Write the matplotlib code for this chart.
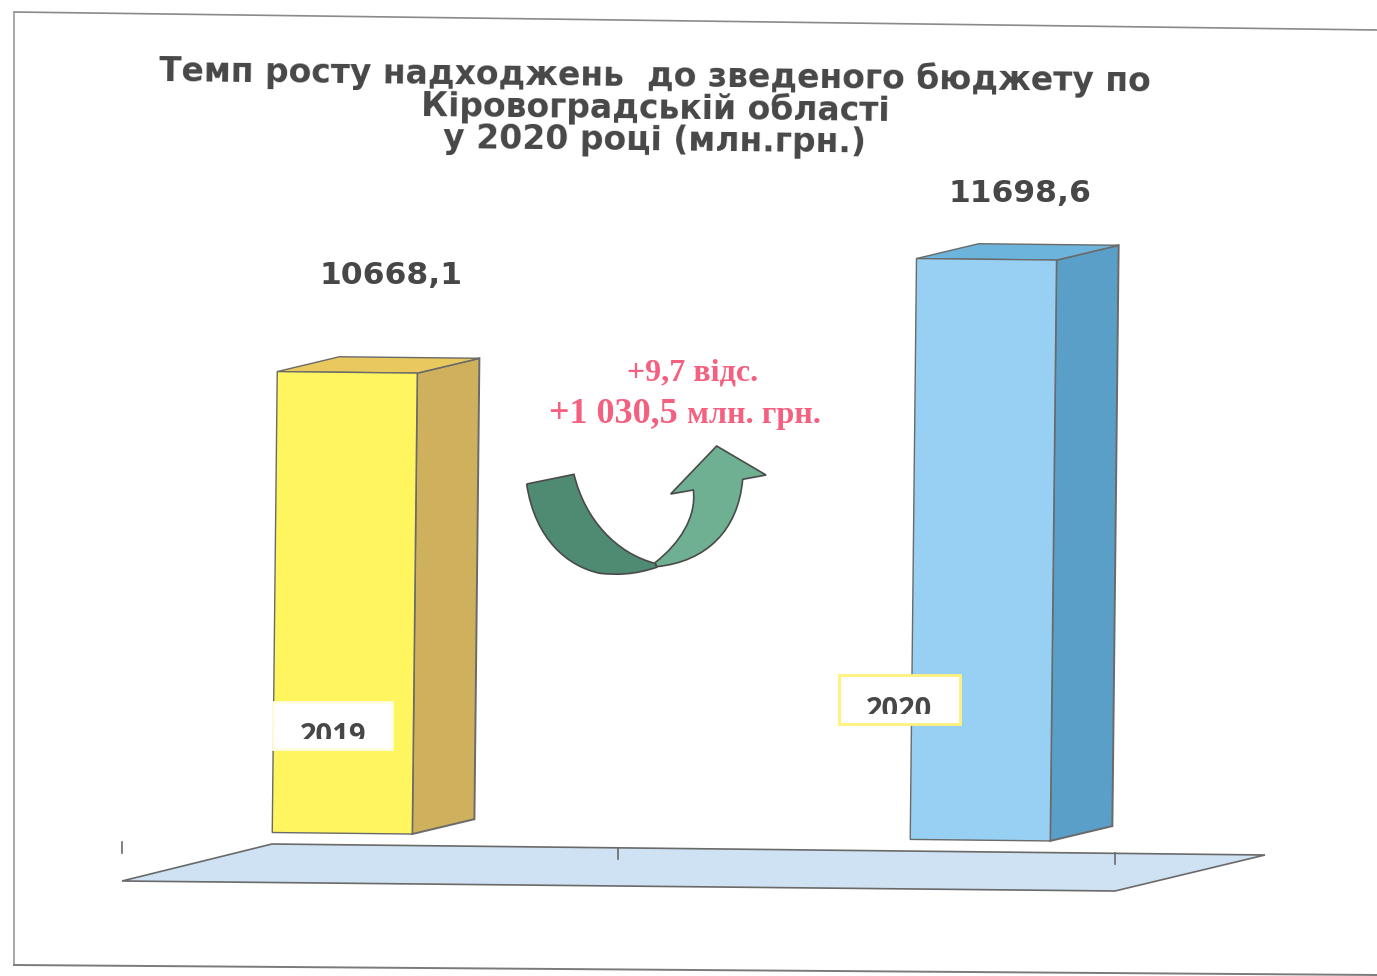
import numpy as np
import matplotlib
matplotlib.use("Agg")
import matplotlib.pyplot as plt
from matplotlib.patches import Polygon, PathPatch, Rectangle
from matplotlib.path import Path
from matplotlib.transforms import Affine2D, Bbox

W, H = 1377, 976

categories = ["2019", "2020"]
values = [10668.1, 11698.6]
value_labels = ["10668,1", "11698,6"]
title_lines = ["Темп росту надходжень  до зведеного бюджету по",
               "Кіровоградській області",
               "у 2020 році (млн.грн.)"]

front_cols = ["#fff55f", "#97d0f2"]
side_cols = ["#cfb05c", "#5a9fc8"]
top_cols = ["#e9c95e", "#6cb4dc"]
GREY = "#6a6a6a"
TXT = "#474747"
RED = "#f4607f"

# scale of the value axis, bars start far above zero in the original
base = 6708
px_per_val = 0.1164
base_px = 837
x0_px, step_px = 346, 638
bar_w = 140 / step_px
depth_x = 62 / step_px
depth_y = 15.5 / px_per_val
tilt_deg = -0.62

fig = plt.figure(figsize=(W / 100, H / 100), dpi=100)
ax = fig.add_axes([0, 0, 1, 1])
ax.set_xlim(-x0_px / step_px, (W - x0_px) / step_px)
ax.set_ylim(base - (H - base_px) / px_per_val, base + base_px / px_per_val)
ax.axis("off")

# the page was scanned slightly crooked
tilt = Affine2D().rotate_deg_around(W / 2, H / 2, tilt_deg)
tr = ax.transData + tilt

for i, v in enumerate(values):
    l, r = i - bar_w / 2, i + bar_w / 2
    bars = ax.bar(i, v - base, bar_w, bottom=base, color=front_cols[i],
                  edgecolor=GREY, linewidth=1.0, zorder=3)
    bars[0].set_transform(tr)
    side = Polygon([(r, base), (r + depth_x, base + depth_y), (r + depth_x, v + depth_y), (r, v)],
                   facecolor=side_cols[i], edgecolor=GREY, linewidth=1.4, transform=tr, zorder=2)
    top = Polygon([(l, v), (r, v), (r + depth_x, v + depth_y), (l + depth_x, v + depth_y)],
                  facecolor=top_cols[i], edgecolor=GREY, linewidth=1.0, transform=tr, zorder=2)
    ax.add_patch(side)
    ax.add_patch(top)

# overlay in picture pixels for floor, frame, arrow and text
deco = fig.add_axes([0, 0, 1, 1])
deco.set_xlim(0, W)
deco.set_ylim(H, 0)
deco.axis("off")
deco.patch.set_alpha(0)

# scan frame
deco.plot([14, 1377], [12, 30], color="#8a8a8a", lw=1.2)
deco.plot([14, 14], [12, 965], color="#9a9a9a", lw=1.2)
deco.plot([14, 1377], [965, 975], color="#7a7a7a", lw=1.4)

# floor
floor = Polygon([(122, 881), (272, 844), (1265, 855), (1115, 891)],
                facecolor="#cfe2f3", edgecolor=GREY, linewidth=1.2)
deco.add_patch(floor)
for x, y in [(122, 842), (618, 848), (1115, 853)]:
    deco.plot([x, x], [y, y + 11], color=GREY, lw=1.2)


def z(px, py):
    return (px / 3 + 500, py / 3 + 340)


# arrow, dark part then light part
dark_v = [z(80, 432), z(222, 403), z(255, 540), z(350, 640), z(465, 670), z(470, 682),
          z(400, 705), z(350, 705), z(300, 700), z(205, 680), z(105, 600), z(80, 432)]
dark_c = [Path.MOVETO, Path.LINETO, Path.CURVE4, Path.CURVE4, Path.CURVE4, Path.LINETO,
          Path.CURVE4, Path.CURVE4, Path.CURVE4, Path.CURVE4, Path.CURVE4, Path.CURVE4]
light_v = [z(465, 668), z(540, 610), z(590, 530), z(580, 450), z(512, 462), z(650, 318),
           z(798, 405), z(728, 418), z(715, 570), z(620, 665), z(470, 680), z(465, 668)]
light_c = [Path.MOVETO, Path.CURVE4, Path.CURVE4, Path.CURVE4, Path.LINETO, Path.LINETO,
           Path.LINETO, Path.LINETO, Path.CURVE4, Path.CURVE4, Path.CURVE4, Path.LINETO]
deco.add_patch(PathPatch(Path(light_v, light_c), facecolor="#6fb093", edgecolor="#4a4a4a", lw=1.2))
deco.add_patch(PathPatch(Path(dark_v, dark_c), facecolor="#4f8a72", edgecolor="#4a4a4a", lw=1.2))

# year boxes, the years are cut off at the bottom like in the scan
boxes = [(273, 702, 119, 47, "#fffde0"), (839, 675, 121, 49, "#fff27a")]
centers = [(333, 737), (899, 710)]
cuts = [739, 714]
for i, (x, y, w, h, ec) in enumerate(boxes):
    deco.add_patch(Rectangle((x, y), w, h, facecolor="white", edgecolor=ec, linewidth=2, zorder=4))
    t = deco.text(centers[i][0], centers[i][1], categories[i], ha="center", va="center",
                  fontsize=21, family="Open Sans", fontweight="bold", color=TXT, zorder=5)
    t.set_clip_box(Bbox.from_extents(x, H - cuts[i], x + w, H - y))
    t.set_clip_on(True)

# value labels
for (x, y), s in zip([(391, 275), (1020, 193)], value_labels):
    deco.text(x, y, s, ha="center", va="center", fontsize=22.6, family="DejaVu Sans",
              fontweight="bold", color=TXT)

# title, one block so the tight line spacing stays like the original
deco.text(655, 108, "\n".join(title_lines), ha="center", va="center", multialignment="center",
          fontsize=23.8, family="DejaVu Sans", fontweight="bold", color=TXT,
          linespacing=0.94, rotation=-0.6, rotation_mode="anchor")

# change note
deco.text(693, 373, "+9,7 відс.", ha="center", va="center", fontsize=23,
          family="Liberation Serif", fontweight="bold", color=RED)
deco.text(678, 414, "+1 030,5", ha="right", va="center", fontsize=26,
          family="Liberation Serif", fontweight="bold", color=RED)
deco.text(687, 416, "млн. грн.", ha="left", va="center", fontsize=23.2,
          family="Liberation Serif", fontweight="bold", color=RED)

fig.savefig("out.png", dpi=100, facecolor="white")
